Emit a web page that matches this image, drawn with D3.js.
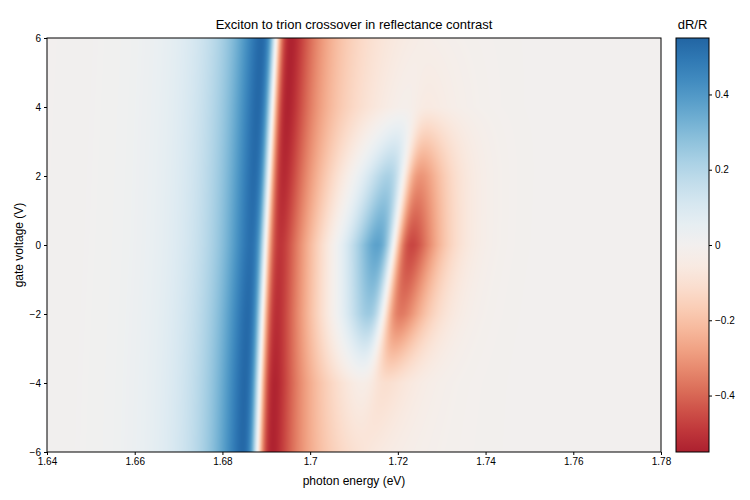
<!DOCTYPE html>
<html><head><meta charset="utf-8">
<script src="https://cdn.jsdelivr.net/npm/d3@7"></script>
<style>body{margin:0;background:#fff;font-family:"Liberation Sans",Arial,sans-serif}</style>
</head><body><div id="container"></div>
<script>
// resonance parameters, per gate voltage
var voltages   = [-6, -4, -2, 0, 2, 4, 6];
var excitonE   = [1.6880, 1.6885, 1.6891, 1.6898, 1.6906, 1.6914, 1.6922];
var excitonAmp = [1.1, 1.1, 1.08, 1.05, 1.08, 1.1, 1.1];
var excitonW   = [0.0036, 0.0036, 0.0036, 0.0036, 0.0036, 0.0036, 0.0036];
var trionE     = [1.712, 1.7145, 1.717, 1.7193, 1.7215, 1.724, 1.726];
var trionAmp   = [0, 0.12, 0.7, 0.95, 0.6, 0.06, 0];
var trionW     = [0.004, 0.0042, 0.0045, 0.0048, 0.0045, 0.0042, 0.004];
var xTicks = [1.64, 1.66, 1.68, 1.7, 1.72, 1.74, 1.76, 1.78];
var yTicks = [-6, -4, -2, 0, 2, 4, 6];
var cbTicks = [-0.4, -0.2, 0, 0.2, 0.4];

var W = 750, H = 500,
    m = {left: 47, top: 38, right: 661, bottom: 452};

var svg = d3.select('#container').append('svg').attr('width', W).attr('height', H);

var x = d3.scaleLinear().domain([1.64, 1.78]).range([m.left, m.right]),
    y = d3.scaleLinear().domain([-6, 6]).range([m.bottom, m.top]),
    vInterp = d3.scaleLinear().domain(voltages);

function param(arr, v) { return vInterp.range(arr)(v); }
// dispersive lineshape with a damped tail
function disp(e, e0, g, a, s) {
  var d = e - e0;
  return -a * d * g / (d * d + g * g) * Math.exp(-(d / s) * (d / s));
}

var cmap = function(t) { return d3.interpolateRdBu(0.1 + 0.8 * t); };
var color = function(v) { return cmap((v + 0.55) / 1.1); };

// heatmap on a canvas, then into the svg as an image
var pw = m.right - m.left, ph = m.bottom - m.top;
var canvas = document.createElement('canvas');
canvas.width = pw; canvas.height = ph;
var ctx = canvas.getContext('2d'), img = ctx.createImageData(pw, ph);
for (var j = 0; j < ph; j++) {
  var v = y.invert(m.top + j + 0.5);
  var ex0 = param(excitonE, v), exA = param(excitonAmp, v), exG = param(excitonW, v),
      tr0 = param(trionE, v), trA = param(trionAmp, v), trG = param(trionW, v);
  for (var i = 0; i < pw; i++) {
    var e = x.invert(m.left + i + 0.5);
    var val = disp(e, ex0, exG, exA, e < ex0 ? 0.024 : 0.03) +
              disp(e, tr0, trG, trA, e < tr0 ? 0.018 : 0.014);
    val = Math.max(-0.55, Math.min(0.55, val));
    var c = d3.rgb(color(val)), k = (j * pw + i) * 4;
    img.data[k] = c.r; img.data[k + 1] = c.g; img.data[k + 2] = c.b; img.data[k + 3] = 255;
  }
}
ctx.putImageData(img, 0, 0);
svg.append('image').attr('x', m.left).attr('y', m.top).attr('width', pw).attr('height', ph)
  .attr('preserveAspectRatio', 'none').attr('href', canvas.toDataURL());

svg.append('rect').attr('x', m.left).attr('y', m.top).attr('width', pw).attr('height', ph)
  .attr('fill', 'none').attr('stroke', '#000');

var xAxis = svg.append('g').attr('transform', 'translate(0,' + m.bottom + ')')
  .call(d3.axisBottom(x).tickValues(xTicks).tickSize(3).tickFormat(d3.format('')));
var yAxis = svg.append('g').attr('transform', 'translate(' + m.left + ',0)')
  .call(d3.axisLeft(y).tickValues(yTicks).tickSize(3));
[xAxis, yAxis].forEach(function(a) {
  a.select('.domain').remove();
  a.selectAll('text').attr('font-size', 10).attr('fill', '#000').attr('font-family', 'Liberation Sans');
});

svg.append('text').attr('x', (m.left + m.right) / 2).attr('y', 29).attr('text-anchor', 'middle')
  .attr('font-size', 13).text('Exciton to trion crossover in reflectance contrast');
svg.append('text').attr('x', (m.left + m.right) / 2).attr('y', 485).attr('text-anchor', 'middle')
  .attr('font-size', 12).text('photon energy (eV)');
svg.append('text').attr('transform', 'translate(23,' + (m.top + m.bottom) / 2 + ') rotate(-90)')
  .attr('text-anchor', 'middle').attr('font-size', 12).text('gate voltage (V)');

// colorbar
var cb = {x: 676, w: 33};
var cbScale = d3.scaleLinear().domain([-0.55, 0.55]).range([m.bottom, m.top]);
var grad = svg.append('defs').append('linearGradient').attr('id', 'cbg')
  .attr('x1', 0).attr('y1', 1).attr('x2', 0).attr('y2', 0);
d3.range(0, 1.001, 0.05).forEach(function(t) {
  grad.append('stop').attr('offset', t).attr('stop-color', cmap(t));
});
svg.append('rect').attr('x', cb.x).attr('y', m.top).attr('width', cb.w).attr('height', ph)
  .attr('fill', 'url(#cbg)').attr('stroke', '#000');
var cbAxis = svg.append('g').attr('transform', 'translate(' + (cb.x + cb.w) + ',0)')
  .call(d3.axisRight(cbScale).tickValues(cbTicks).tickSize(3).tickFormat(d3.format('')));
cbAxis.select('.domain').remove();
cbAxis.selectAll('text').attr('font-size', 10).attr('fill', '#000').attr('font-family', 'Liberation Sans');
svg.append('text').attr('x', cb.x + cb.w / 2).attr('y', 29).attr('text-anchor', 'middle')
  .attr('font-size', 13).text('dR/R');
</script></body></html>
